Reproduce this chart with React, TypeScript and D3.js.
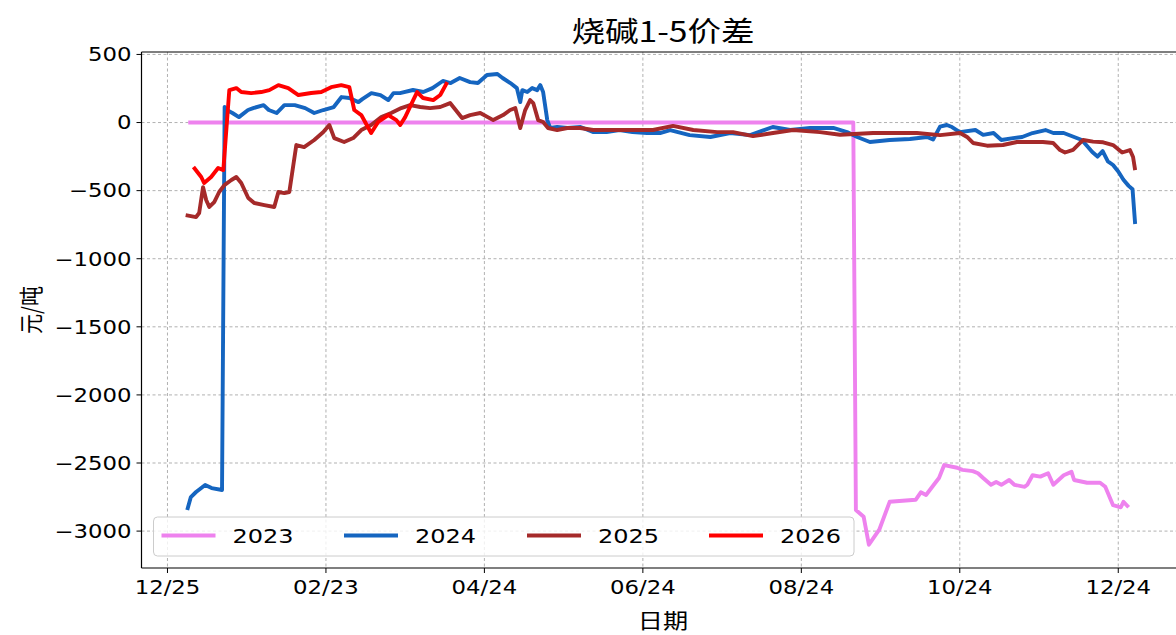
import React from 'react';
import * as d3 from 'd3';

// x values: days counted from 12/25 (tick spacing 61 days)
const tickDays = [0, 61, 122, 183, 244, 305, 366];
const tickLabels = ['12/25', '02/23', '04/24', '06/24', '08/24', '10/24', '12/24'];
const yTicks = [500, 0, -500, -1000, -1500, -2000, -2500, -3000];

const s2023: [number, number][] = [
  [8, 0], [264, 0], [265, -2845], [268, -2895], [270, -3100], [274, -2990], [278, -2785],
  [288, -2770], [290, -2715], [292, -2735], [295, -2660], [297, -2610], [299, -2515],
  [304, -2535], [306, -2550], [310, -2560], [312, -2575], [314, -2610], [317, -2660],
  [319, -2640], [321, -2660], [324, -2625], [326, -2660], [330, -2675], [331, -2660],
  [333, -2590], [336, -2600], [339, -2575], [341, -2660], [345, -2590], [348, -2565],
  [349, -2625], [354, -2645], [359, -2645], [361, -2675], [364, -2810], [367, -2825],
  [368, -2785], [370, -2825],
];

const s2024: [number, number][] = [
  [7.6, -2845], [9, -2750], [11, -2713], [14.5, -2661], [17, -2684], [21, -2698], [22, 115],
  [23, 90], [25, 70], [27.5, 40], [31, 92], [33, 106], [37, 128], [39, 92], [42, 70], [45, 128],
  [49, 128], [53, 106], [56.5, 70], [60, 92], [64, 114], [67, 187], [70, 180], [73.5, 150],
  [75, 172], [78.5, 216], [82, 202], [85, 165], [87, 216], [89.5, 216], [94.5, 239],
  [98.5, 224], [102, 253], [106, 305], [109, 290], [112.5, 327], [116.5, 297], [119.5, 290],
  [123, 349], [127, 356], [129, 327], [132, 290], [134.5, 253], [135.8, 150], [136.6, 238],
  [138.5, 224], [140.4, 253], [142.3, 238], [143.5, 275], [144.6, 224], [146.2, 18],
  [147.3, -40], [150, -33], [154, -40], [159, -33], [164, -70], [169, -70], [174, -55],
  [179, -70], [184.6, -77], [189.6, -77], [193.5, -55], [201, -92], [209, -106], [216.6, -77],
  [224.3, -92], [233, -33], [239.7, -55], [247.4, -40], [256.3, -40], [261.6, -70],
  [265.5, -106], [270.4, -143], [278, -128], [285.8, -121], [292.4, -106], [294.7, -125],
  [297.4, -30], [300, -18], [302, -33], [305, -70], [311, -55], [314, -90], [318, -77],
  [321, -128], [325.5, -114], [329, -106], [333, -77], [338, -55], [341, -77], [345, -77],
  [349, -106], [352, -128], [356, -217], [358, -250], [360, -210], [362, -285], [364, -312],
  [366, -360], [368, -420], [370, -465], [371.5, -490], [372.5, -745],
];

const s2025: [number, number][] = [
  [7, -680], [11, -694], [12.2, -664], [13.7, -474], [14.9, -569], [16.1, -620], [18, -584],
  [19.9, -510], [21.9, -459], [24.6, -422], [26.5, -400], [28.4, -444], [31.1, -554],
  [33.4, -591], [37.3, -606], [41.1, -620], [42.7, -510], [45, -518], [46.9, -510],
  [49.6, -165], [52.6, -180], [56.5, -128], [60, -70], [62.3, -18], [64.2, -114], [68, -143],
  [71.5, -114], [74.6, -55], [78.4, -18], [82.3, 40], [86.1, 70], [90, 106], [93.4, 128],
  [97.3, 114], [101.1, 106], [105, 114], [108.8, 143], [113.4, 33], [116.5, 55], [120.4, 70],
  [125.4, 18], [129.2, 55], [131.9, 92], [133.9, 106], [135.8, -40], [137.7, 92], [139.6, 165],
  [140.8, 143], [142.7, 18], [144.6, 4], [146.5, -40], [150, -55], [153.9, -40], [158.9, -40],
  [163.9, -55], [171.6, -55], [179.3, -55], [186.9, -55], [194.6, -25], [202.4, -55],
  [211.6, -70], [217.7, -70], [225.4, -100], [233.1, -77], [240.8, -55], [251.2, -70],
  [258.9, -90], [271.6, -77], [282, -77], [288.5, -77], [297.4, -92], [305.1, -77],
  [307.8, -106], [310.1, -150], [315.5, -170], [321.6, -165], [327, -143], [332, -143],
  [337, -143], [340.9, -150], [343.6, -202], [345.5, -220], [348.6, -200], [351.3, -150],
  [352.5, -128], [356.3, -140], [360.2, -145], [364, -165], [367.5, -220], [370.5, -202],
  [371.7, -253], [372.5, -349],
];

const s2026: [number, number][] = [
  [10, -327], [13, -400], [14.1, -444], [16.8, -400], [19.5, -334], [21.5, -349], [23.8, 238],
  [26.5, 253], [28.4, 224], [32.2, 216], [36.1, 224], [39.2, 238], [42.7, 275], [46.5, 253],
  [50.4, 202], [55.3, 217], [59.2, 224], [63, 260], [66.9, 275], [70, 260], [71.9, 92],
  [74.6, 55], [78.4, -77], [81.1, 4], [85, 55], [88.1, 18], [89.6, -18], [91.5, 40],
  [94.6, 165], [96.1, 224], [98.4, 180], [102.3, 165], [105, 202], [107.7, 297],
];

const seriesNames = ['2023', '2024', '2025', '2026'];
const seriesData = [s2023, s2024, s2025, s2026];
const seriesColors = ['#EE82EE', '#1565C0', '#A52A2A', '#FF0000'];

const W = 1176;
const H = 635;
const L = 141.5, R = 1184.5, T = 52, B = 568;
const FONT = '"DejaVu Sans", "Noto Sans CJK SC", sans-serif';
const CJK = '"Noto Sans CJK SC", "DejaVu Sans", sans-serif';
const SX = 1.2; // horizontal stretch of the text in the picture

type STProps = {
  x: number; y: number; size: number; anchor?: string; dy?: string;
  rotate?: number; family?: string; children: React.ReactNode;
};
function ST({ x, y, size, anchor = 'start', dy, rotate, family = FONT, children }: STProps) {
  const tr = `translate(${x},${y}) scale(${SX},1)` + (rotate ? ` rotate(${rotate})` : '');
  return (
    <text transform={tr} fontSize={size} textAnchor={anchor} dy={dy} fontFamily={family} fill="#000">
      {children}
    </text>
  );
}

export default function App() {
  const x = d3.scaleLinear().domain([-10, 391.5]).range([L, R]);
  const y = d3.scaleLinear().domain([-3271, 518]).range([B, T]);
  const line = d3.line<[number, number]>().x(d => x(d[0])).y(d => y(d[1]));
  const fmt = d3.format('d');

  const legendX = [161.5, 344, 527, 709];

  return (
    <svg width={W} height={H} style={{ position: 'absolute', left: 0, top: 0, background: '#fff' }}>
      <defs>
        <clipPath id="plot">
          <rect x={L} y={T} width={R - L} height={B - T} />
        </clipPath>
      </defs>
      <rect x={0} y={0} width={W} height={H} fill="#fff" />
      {/* grid */}
      <g stroke="#a8a8a8" strokeWidth={0.9} strokeDasharray="3,2.5">
        {tickDays.map(d => <line key={'gx' + d} x1={x(d)} x2={x(d)} y1={T} y2={B} />)}
        {yTicks.map(v => <line key={'gy' + v} x1={L} x2={R} y1={y(v)} y2={y(v)} />)}
      </g>
      {/* series */}
      <g clipPath="url(#plot)" fill="none" strokeWidth={3.9} strokeLinejoin="round" strokeLinecap="butt">
        {seriesData.map((s, i) => (
          <path key={seriesNames[i]} d={line(s) || ''} stroke={seriesColors[i]} />
        ))}
      </g>
      {/* spines */}
      <g stroke="#000" strokeWidth={1.2} fill="none">
        <line x1={L} x2={L} y1={T} y2={B} />
        <line x1={L} x2={R} y1={T} y2={T} />
        <line x1={L} x2={R} y1={B} y2={B} />
        <line x1={R} x2={R} y1={T} y2={B} />
      </g>
      {/* ticks */}
      <g stroke="#000" strokeWidth={1}>
        {tickDays.map(d => <line key={'tx' + d} x1={x(d)} x2={x(d)} y1={B} y2={B + 5} />)}
        {yTicks.map(v => <line key={'ty' + v} x1={L - 5} x2={L} y1={y(v)} y2={y(v)} />)}
      </g>
      <g>
        {tickDays.map((d, i) => (
          <ST key={'lx' + d} x={x(d)} y={B + 26} size={19} anchor="middle">{tickLabels[i]}</ST>
        ))}
        {yTicks.map(v => (
          <ST key={'ly' + v} x={L - 10} y={y(v)} dy="0.36em" size={19} anchor="end">{fmt(v)}</ST>
        ))}
        <ST x={(L + R) / 2} y={42} size={28} anchor="middle" family={CJK}>烧碱1-5价差</ST>
        <ST x={(L + R) / 2} y={628} size={21} anchor="middle" family={CJK}>日期</ST>
        <ST x={40} y={(T + B) / 2} size={20} anchor="middle" rotate={-90} family={CJK}>元/吨</ST>
      </g>
      {/* legend */}
      <g>
        <rect x={153.5} y={517} width={700.5} height={39} rx={4} fill="#fff" fillOpacity={0.8} stroke="#cccccc" strokeWidth={1} />
        {seriesNames.map((n, i) => (
          <g key={'lg' + n}>
            <line x1={legendX[i]} x2={legendX[i] + 54} y1={535.5} y2={535.5} stroke={seriesColors[i]} strokeWidth={3.9} />
            <ST x={legendX[i] + 71} y={535.5} dy="0.36em" size={20}>{n}</ST>
          </g>
        ))}
      </g>
    </svg>
  );
}
